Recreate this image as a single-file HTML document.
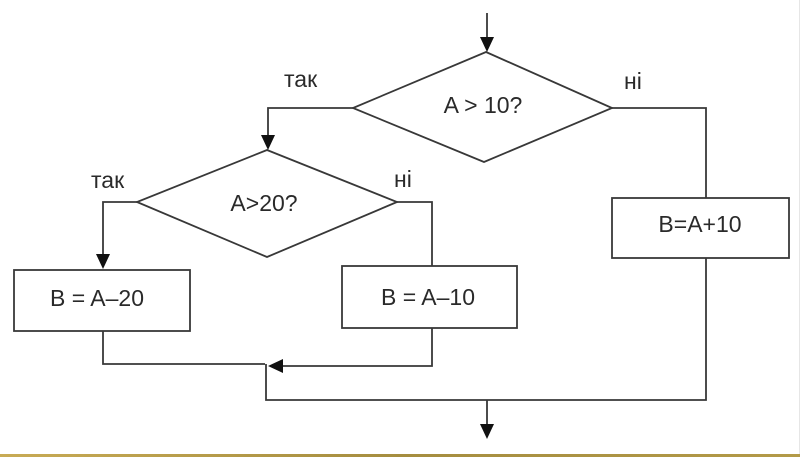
<!DOCTYPE html>
<html>
<head>
<meta charset="utf-8">
<style>
html,body{margin:0;padding:0;background:#fff;}
body{width:800px;height:457px;overflow:hidden;position:relative;}
svg{position:absolute;left:0;top:0;}
text{font-family:"Liberation Sans",Arial,sans-serif;font-size:23px;fill:#2a2a2a;}
</style>
</head>
<body>
<svg width="800" height="457" viewBox="0 0 800 457" xmlns="http://www.w3.org/2000/svg">
<defs>
<linearGradient id="g" x1="0" x2="1" y1="0" y2="0">
<stop offset="0" stop-color="#c8ab55"/>
<stop offset="0.5" stop-color="#a58d3f"/>
<stop offset="1" stop-color="#b39a48"/>
</linearGradient>
</defs>
<rect x="0" y="0" width="800" height="457" fill="#fff"/>
<line x1="799.5" y1="0" x2="799.5" y2="454" stroke="#e6e6e6" stroke-width="1"/>
<rect x="0" y="454" width="800" height="3" fill="url(#g)"/>

<g stroke="#383838" stroke-width="1.8" fill="none">
  <!-- top arrow -->
  <line x1="487" y1="13" x2="487" y2="38"/>
  <!-- diamond 1 -->
  <polygon points="486,52 612,108 484,162 353,108" fill="#fff"/>
  <!-- left branch -->
  <polyline points="353,108 268,108 268,137"/>
  <!-- right branch -->
  <polyline points="612,108 706,108 706,198"/>
  <!-- box 3 -->
  <rect x="612" y="198" width="177" height="60" fill="#fff"/>
  <!-- diamond 2 -->
  <polygon points="267,150 397,202 267,257 137,202" fill="#fff"/>
  <polyline points="137,202 103,202 103,256"/>
  <polyline points="397,202 432,202 432,266"/>
  <!-- box 1 -->
  <rect x="14" y="270" width="176" height="61" fill="#fff"/>
  <!-- box 2 -->
  <rect x="342" y="266" width="175" height="62" fill="#fff"/>
  <!-- merges -->
  <polyline points="103,331 103,364 265,364"/>
  <polyline points="432,328 432,366 282,366"/>
  <polyline points="266,364 266,400 706,400 706,258"/>
  <line x1="487" y1="400" x2="487" y2="426"/>
</g>

<g fill="#111">
  <polygon points="480,37 494,37 487,52"/>
  <polygon points="261,135 275,135 268,150"/>
  <polygon points="96,254 110,254 103,269"/>
  <polygon points="283,359 283,373 268,366"/>
  <polygon points="480,424 494,424 487,439"/>
</g>

<text x="483" y="113" text-anchor="middle">A &gt; 10?</text>
<text x="284" y="87">так</text>
<text x="624" y="89">ні</text>
<text x="264" y="211" text-anchor="middle">A&gt;20?</text>
<text x="91" y="188">так</text>
<text x="394" y="187">ні</text>
<text x="97" y="306" text-anchor="middle">B = A–20</text>
<text x="428" y="305" text-anchor="middle">B = A–10</text>
<text x="700" y="232" text-anchor="middle">B=A+10</text>
</svg>
</body>
</html>
